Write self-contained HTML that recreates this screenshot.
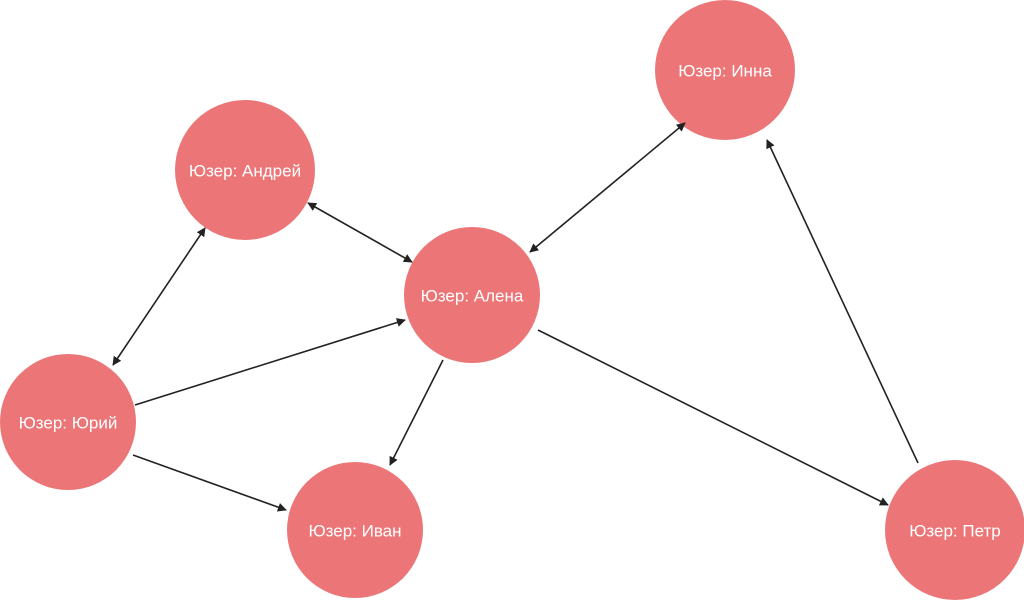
<!DOCTYPE html>
<html><head><meta charset="utf-8"><style>
html,body{margin:0;padding:0;background:#fff;}
svg{display:block;}
text{font-family:"Liberation Sans",sans-serif;font-size:17px;fill:#fff;text-anchor:middle;dominant-baseline:central;}
</style></head><body>
<svg width="1024" height="600" viewBox="0 0 1024 600">
<defs>
<marker id="a" viewBox="0 0 10 10" refX="9" refY="5" markerWidth="9" markerHeight="9" orient="auto-start-reverse" markerUnits="userSpaceOnUse">
<path d="M0,0 L10,5 L0,10 z" fill="#222"/></marker>
</defs>
<g fill="#ec7677">
<circle cx="245" cy="170" r="70"/>
<circle cx="725" cy="70" r="70"/>
<circle cx="472" cy="295" r="68"/>
<circle cx="68" cy="422" r="68"/>
<circle cx="355" cy="530" r="68"/>
<circle cx="955" cy="530" r="70"/>
</g>
<g stroke="#222" stroke-width="1.6" fill="none">
<line x1="308" y1="203" x2="412" y2="262" marker-start="url(#a)" marker-end="url(#a)"/>
<line x1="205" y1="228" x2="113" y2="365" marker-start="url(#a)" marker-end="url(#a)"/>
<line x1="685" y1="123" x2="530" y2="252" marker-start="url(#a)" marker-end="url(#a)"/>
<line x1="135" y1="405" x2="405" y2="320" marker-end="url(#a)"/>
<line x1="133" y1="455" x2="286" y2="510" marker-end="url(#a)"/>
<line x1="443" y1="360" x2="390" y2="465" marker-end="url(#a)"/>
<line x1="538" y1="330" x2="888" y2="505" marker-end="url(#a)"/>
<line x1="918" y1="463" x2="767" y2="140" marker-end="url(#a)"/>
</g>
<text x="245" y="171">Юзер: Андрей</text>
<text x="725" y="71">Юзер: Инна</text>
<text x="472" y="296">Юзер: Алена</text>
<text x="68" y="423">Юзер: Юрий</text>
<text x="355" y="531">Юзер: Иван</text>
<text x="955" y="531">Юзер: Петр</text>
</svg>
</body></html>
